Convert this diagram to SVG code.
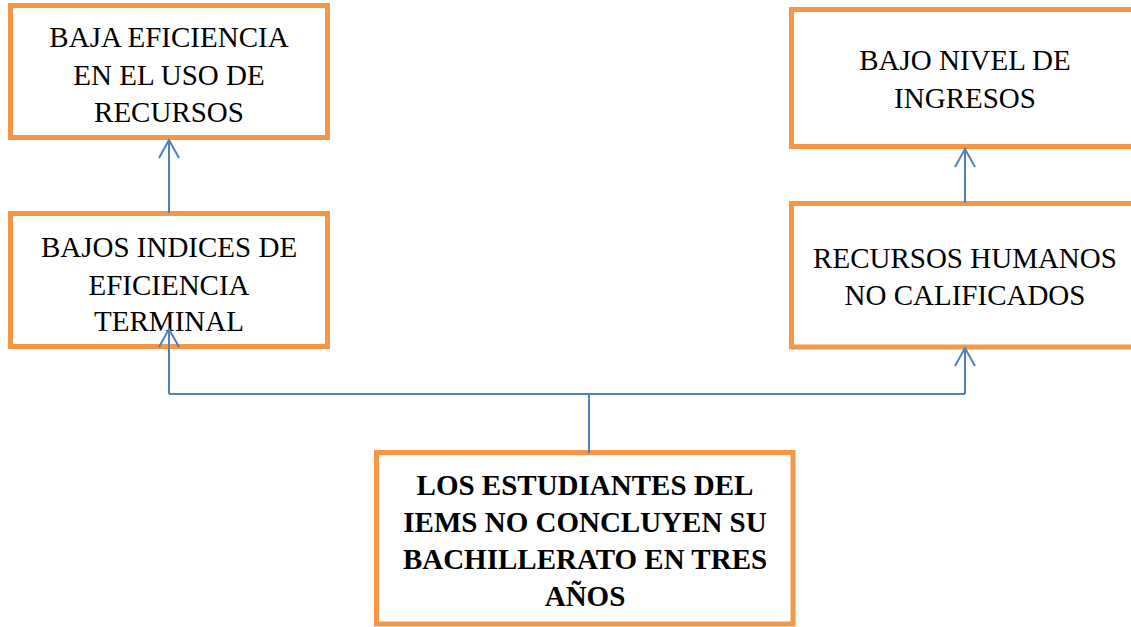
<svg xmlns="http://www.w3.org/2000/svg" width="1131" height="627" viewBox="0 0 1131 627">
<defs>
<style>
.box{fill:#fff;stroke:#F79646;stroke-width:5;}
.t{font-family:"Liberation Serif","Times New Roman",serif;font-size:29px;fill:#000;text-anchor:middle;}
.b{font-weight:bold;}
.c{fill:none;stroke:#4F81BD;stroke-width:2;}
</style>
</defs>
<rect width="1131" height="627" fill="#fff"/>
<g id="n1">
<rect class="box" x="10.5" y="5.5" width="317" height="132"/>
<text class="t" x="169" y="47">BAJA EFICIENCIA</text>
<text class="t" x="169" y="85">EN EL USO DE</text>
<text class="t" x="169" y="122">RECURSOS</text>
</g>
<g id="n2">
<rect class="box" x="10.5" y="213.5" width="317" height="133"/>
<text class="t" x="169" y="257">BAJOS INDICES DE</text>
<text class="t" x="169" y="295">EFICIENCIA</text>
<text class="t" x="169" y="331">TERMINAL</text>
</g>
<g id="n3">
<rect class="box" x="791.5" y="9.5" width="350" height="137"/>
<text class="t" x="965" y="70">BAJO NIVEL DE</text>
<text class="t" x="965" y="108">INGRESOS</text>
</g>
<g id="n4">
<rect class="box" x="791.5" y="203.5" width="350" height="143.5"/>
<text class="t" x="965" y="268">RECURSOS HUMANOS</text>
<text class="t" x="965" y="305">NO CALIFICADOS</text>
</g>
<g id="n5">
<rect class="box" x="376.5" y="452.5" width="416.5" height="171.5"/>
<text class="t b" x="585" y="495">LOS ESTUDIANTES DEL</text>
<text class="t b" x="585" y="532">IEMS NO CONCLUYEN SU</text>
<text class="t b" x="585" y="569">BACHILLERATO EN TRES</text>
<text class="t b" x="585" y="606">AÑOS</text>
</g>
<g id="connectors">
<path class="c" d="M169 213 V140 M159 158 L169 140 L179 158"/>
<path class="c" d="M965 203 V149 M955 167 L965 149 L975 167"/>
<path class="c" d="M589 453 V394 M169 394 H965"/>
<path class="c" d="M169 394 V329 M159 347 L169 329 L179 347"/>
<path class="c" d="M965 394 V348 M955 366 L965 348 L975 366"/>
</g>
</svg>
